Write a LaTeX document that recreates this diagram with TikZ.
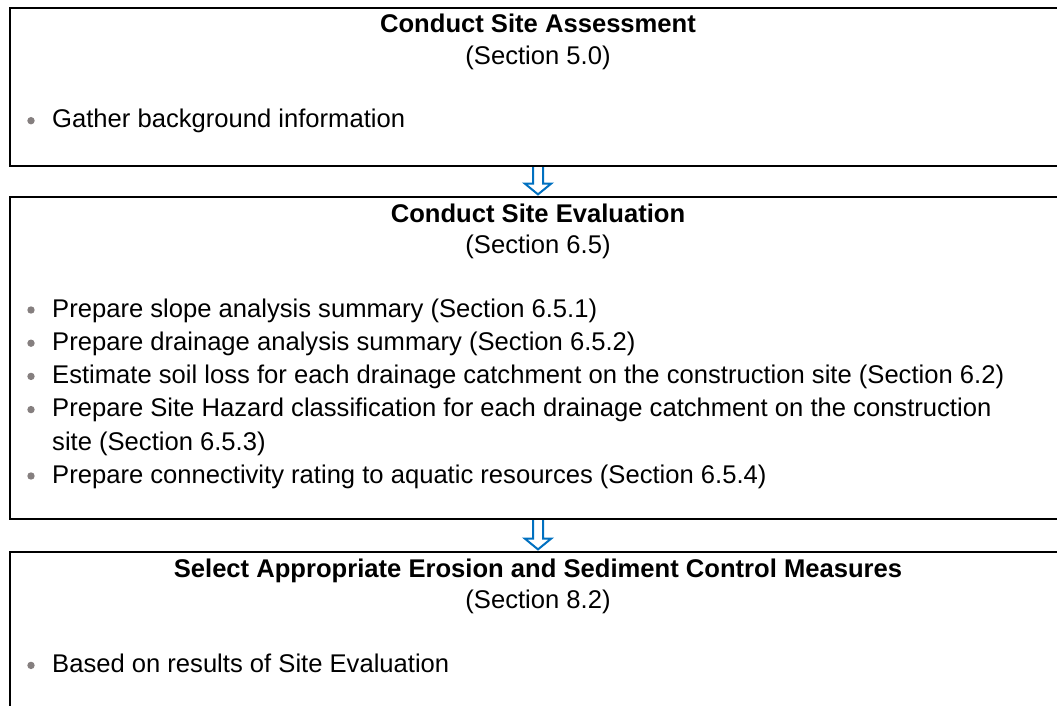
\documentclass[tikz,border=0pt]{standalone}
\usepackage{fontspec}
\setmainfont{Liberation Sans}
\usetikzlibrary{calc}

\definecolor{flowblue}{HTML}{0070C0}
\definecolor{dotgray}{HTML}{857F7F}

\tikzset{
  stagebox/.style={draw, line width=2.4pt, rectangle, anchor=north west,
                   minimum width=1056pt, inner sep=0pt, outer sep=0pt},
  headline/.style={anchor=base, inner sep=0pt, font=\fontsize{25.6}{30}\selectfont\bfseries},
  subline/.style={anchor=base, inner sep=0pt, font=\fontsize{25.6}{30}\selectfont},
  itemline/.style={anchor=base west, inner sep=0pt, font=\fontsize{25.6}{30}\selectfont},
  itemdot/.style={circle, fill=dotgray, minimum size=7.4pt, inner sep=0pt},
  flowarrow/.style={draw=flowblue, line width=2pt, fill=white, line join=miter}
}

\begin{document}
\begin{tikzpicture}[x=1pt, y=-1pt]
\path[use as bounding box, clip] (0,0) rectangle (1057,706);

\begin{scope}[every node/.style={stagebox}]
    \node (assess) at (10,8) [minimum height=158pt] {};
    \node (evaluate) at (10,197) [minimum height=322pt] {};
    \node (select) at (10,552) [minimum height=200pt] {};
\end{scope}

% stage 1
\node[headline] (assesshead) at (538,33) {Conduct Site Assessment};
\node[subline] (assesssec) at (538,64.5) {(Section 5.0)};
\node[itemdot] (assessdot1) at (31,120.7) {};
\node[itemline] (assessitem1) at (52,128) {Gather background information};

% stage 2
\node[headline] (evalhead) at (538,222) {Conduct Site Evaluation};
\node[subline] (evalsec) at (538,253.5) {(Section 6.5)};
\node[itemdot] (evaldot1) at (31,310) {};
\node[itemline] (evalitem1) at (52,317.3) {Prepare slope analysis summary (Section 6.5.1)};
\node[itemdot] (evaldot2) at (31,343.2) {};
\node[itemline] (evalitem2) at (52,350.5) {Prepare drainage analysis summary (Section 6.5.2)};
\node[itemdot] (evaldot3) at (31,376.4) {};
\node[itemline] (evalitem3) at (52,383.7) {Estimate soil loss for each drainage catchment on the construction site (Section 6.2)};
\node[itemdot] (evaldot4) at (31,409.6) {};
\node[itemline] (evalitem4) at (52,416.9) {Prepare Site Hazard classification for each drainage catchment on the construction};
\node[itemline] (evalitem4b) at (52,450.1) {site (Section 6.5.3)};
\node[itemdot] (evaldot5) at (31,476) {};
\node[itemline] (evalitem5) at (52,483.3) {Prepare connectivity rating to aquatic resources (Section 6.5.4)};

% stage 3
\node[headline] (selecthead) at (538,577) {Select Appropriate Erosion and Sediment Control Measures};
\node[subline] (selectsec) at (538,608.5) {(Section 8.2)};
\node[itemdot] (selectdot1) at (31,665.4) {};
\node[itemline] (selectitem1) at (52,672.7) {Based on results of Site Evaluation};

% block arrows between stages
\foreach \from/\to in {assess/evaluate, evaluate/select}
    \draw[flowarrow] ([xshift=-5pt,yshift=-1.2pt]\from.south)
        -- ([xshift=-5pt,yshift=13.5pt]\to.north)
        -- ([xshift=-13.3pt,yshift=13.5pt]\to.north)
        -- ([yshift=2.6pt]\to.north)
        -- ([xshift=13.3pt,yshift=13.5pt]\to.north)
        -- ([xshift=5pt,yshift=13.5pt]\to.north)
        -- ([xshift=5pt,yshift=-1.2pt]\from.south);
\end{tikzpicture}
\end{document}
